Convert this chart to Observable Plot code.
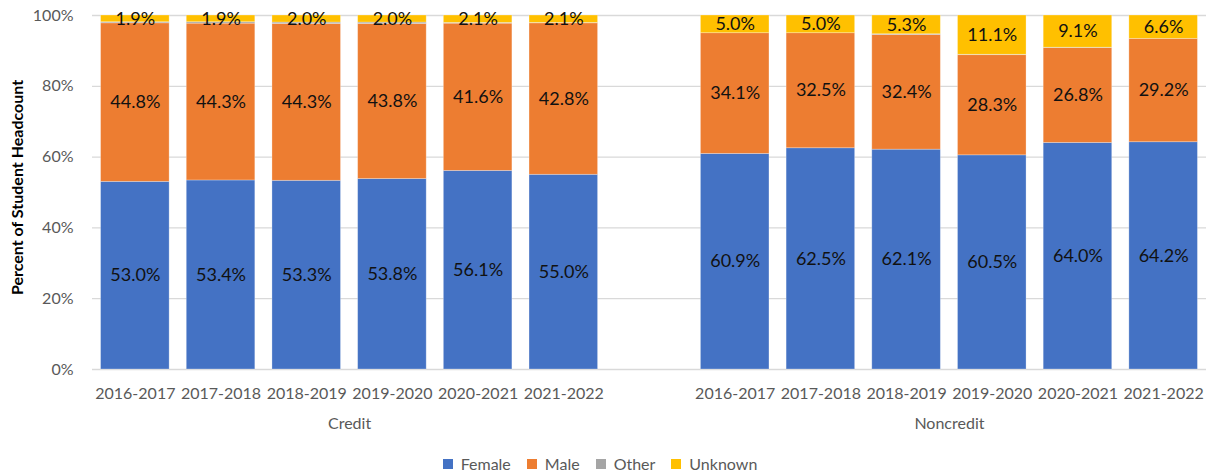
<!DOCTYPE html>
<html>
<head>
<meta charset="utf-8">
<script src="https://cdn.jsdelivr.net/npm/d3@7"></script>
<script src="https://cdn.jsdelivr.net/npm/@observablehq/plot@0.6"></script>
<style>
  html, body { margin: 0; padding: 0; background: #fff; }
  #chart { width: 1216px; font-family: Lato, "Open Sans", sans-serif; }
</style>
</head>
<body>
<div id="chart"></div>
<script>
const years = ["2016-2017", "2017-2018", "2018-2019", "2019-2020", "2020-2021", "2021-2022"];
const groups = ["Credit", "Noncredit"];
const categories = ["Female", "Male", "Other", "Unknown"];
const colors = ["#4472C4", "#ED7D31", "#A5A5A5", "#FFC000"];

// Percent values, by group, per year
const creditFemale   = [53.0, 53.4, 53.3, 53.8, 56.1, 55.0];
const creditMale     = [44.8, 44.3, 44.3, 43.8, 41.6, 42.8];
const creditOther    = [0.3, 0.4, 0.4, 0.4, 0.2, 0.1];
const creditUnknown  = [1.9, 1.9, 2.0, 2.0, 2.1, 2.1];
const noncreditFemale  = [60.9, 62.5, 62.1, 60.5, 64.0, 64.2];
const noncreditMale    = [34.1, 32.5, 32.4, 28.3, 26.8, 29.2];
const noncreditOther   = [0.0, 0.0, 0.2, 0.1, 0.1, 0.0];
const noncreditUnknown = [5.0, 5.0, 5.3, 11.1, 9.1, 6.6];

const series = {
  Credit: [creditFemale, creditMale, creditOther, creditUnknown],
  Noncredit: [noncreditFemale, noncreditMale, noncreditOther, noncreditUnknown]
};

const key = (g, y) => g + "|" + y;
const GAP = "gap";
const xDomain = [...years.map(y => key("Credit", y)), GAP, ...years.map(y => key("Noncredit", y))];

const data = [];
for (const g of groups) {
  years.forEach((yr, i) => {
    categories.forEach((c, j) => {
      data.push({x: key(g, yr), group: g, year: yr, sex: c, value: series[g][j][i]});
    });
  });
}

const W = 1216, H = 447;
const mL = 92, mR = 10, mT = 15, mB = 78;
const step = (W - mL - mR) / xDomain.length;

const groupLabels = [
  {x: key("Credit", years[2]), label: "Credit"},
  {x: key("Noncredit", years[2]), label: "Noncredit"}
];

const chart = Plot.plot({
  width: W,
  height: H,
  marginLeft: mL,
  marginRight: mR,
  marginTop: mT,
  marginBottom: mB,
  style: {fontFamily: "Lato, 'Open Sans', sans-serif", fontSize: "16px", background: "#fff"},
  x: {domain: xDomain, paddingInner: 0.2, paddingOuter: 0.1, round: false},
  y: {domain: [0, 100]},
  color: {domain: categories, range: colors},
  marks: [
    Plot.gridY({ticks: [0, 20, 40, 60, 80, 100], stroke: "#d9d9d9", strokeOpacity: 1, strokeWidth: 1.3}),
    Plot.barY(data, {x: "x", y: "value", fill: "sex", order: categories, stroke: "#ffffff", strokeOpacity: 0.35, strokeWidth: 0.8}),
    Plot.text(data, Plot.stackY({
      x: "x", y: "value", z: "sex", order: categories,
      text: d => d.sex === "Other" ? "" : d.value.toFixed(1) + "%",
      fill: "#111", fontSize: 18
    })),
    Plot.axisY({ticks: [0, 20, 40, 60, 80, 100], tickFormat: d => d + "%", tickSize: 0, tickPadding: 19,
      fill: "#595959", fontSize: 16, label: null}),
    Plot.axisX({ticks: xDomain.filter(k => k !== GAP), tickFormat: k => k.split("|")[1], tickSize: 0, tickPadding: 18,
      fill: "#595959", fontSize: 16, label: null}),
    Plot.text(groupLabels, {x: "x", text: "label", frameAnchor: "bottom", dy: 59, dx: step / 2, fill: "#595959", fontSize: 16}),
    Plot.text(["Percent of Student Headcount"], {text: d => d, frameAnchor: "left", textAnchor: "middle", dx: -75, dy: -5, rotate: -90,
      fontWeight: "bold", fontSize: 16, fill: "#000"})
  ]
});

const legend = Plot.legend({
  color: {domain: categories, range: colors},
  swatchSize: 10,
  swatchWidth: 10,
  swatchHeight: 10,
  style: {fontFamily: "Lato, 'Open Sans', sans-serif", fontSize: "16px", color: "#595959", justifyContent: "center", marginTop: "0px", marginLeft: "0px", gap: "0px"}
});

const root = document.getElementById("chart");
root.appendChild(chart);
const legWrap = document.createElement("div");
legWrap.style.display = "flex";
legWrap.style.justifyContent = "center";
legWrap.style.width = W + "px";
legWrap.appendChild(legend);
root.appendChild(legWrap);
</script>
</body>
</html>
